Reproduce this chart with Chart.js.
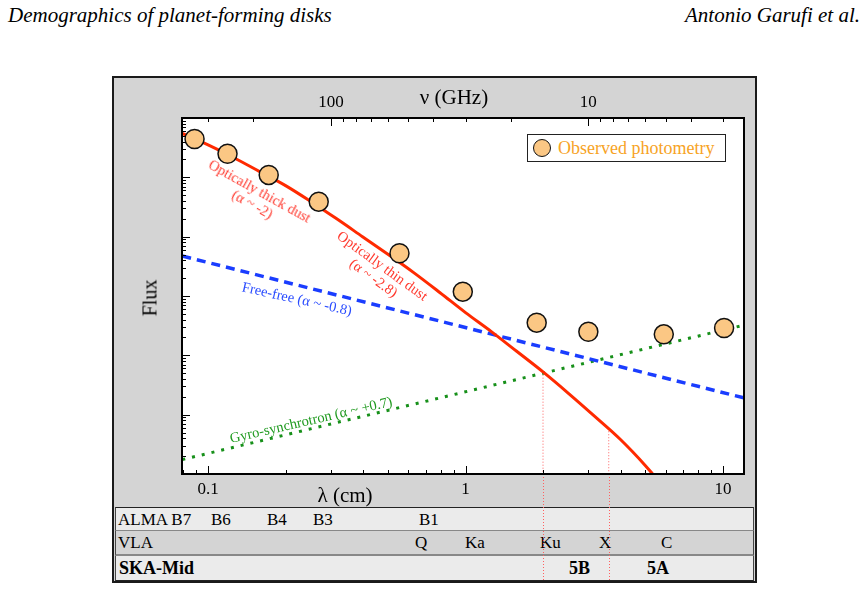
<!DOCTYPE html>
<html>
<head>
<meta charset="utf-8">
<script src="https://cdn.jsdelivr.net/npm/chart.js@4.4.1/dist/chart.umd.min.js"></script>
<style>
  body { margin:0; background:#fff; }
  #page { position:relative; width:868px; height:589px; overflow:hidden;
          font-family:"Liberation Serif","Times New Roman",serif; color:#000; }
  .abs { position:absolute; white-space:nowrap; }
  .hdr { top:3px; font-size:21px; font-style:italic; }
  #frame { position:absolute; left:112px; top:76px; width:641px; height:503px;
           border:2px solid #1a1a1a; background:#d4d4d4; }
  .row { position:absolute; left:115px; width:639px; box-sizing:border-box;
         border-left:1px solid #444; border-right:1px solid #444; }
  .cell { position:absolute; font-size:17px; line-height:24px; top:0; }
  .rot { position:absolute; white-space:nowrap; text-align:center; line-height:15px;
         font-size:14.5px; transform:translate(-50%,-50%); }
  #c { position:absolute; left:0; top:0; }
</style>
</head>
<body>
<div id="page">
  <div class="abs hdr" style="left:8px">Demographics of planet-forming disks</div>
  <div class="abs hdr" style="right:8px">Antonio Garufi et al.</div>

  <div id="frame"></div>

  <!-- bandas dos instrumentos -->
  <div class="row" style="top:507px;height:24px;background:#ebebeb;border-top:1px solid #222;border-bottom:1px solid #888">
    <span class="cell" style="left:2px">ALMA B7</span>
    <span class="cell" style="left:95px">B6</span>
    <span class="cell" style="left:151px">B4</span>
    <span class="cell" style="left:197px">B3</span>
    <span class="cell" style="left:303px">B1</span>
  </div>
  <div class="row" style="top:531px;height:25px;background:#d4d4d4;border-bottom:2px solid #888">
    <span class="cell" style="left:2px">VLA</span>
    <span class="cell" style="left:299px">Q</span>
    <span class="cell" style="left:349px">Ka</span>
    <span class="cell" style="left:424px">Ku</span>
    <span class="cell" style="left:483px">X</span>
    <span class="cell" style="left:545px">C</span>
  </div>
  <div class="row" style="top:556px;height:25px;background:#ebebeb;border-bottom:1px solid #222;font-weight:bold">
    <span class="cell" style="left:3px;font-size:18px">SKA-Mid</span>
    <span class="cell" style="left:453px;font-size:18px">5B</span>
    <span class="cell" style="left:531px;font-size:18px">5A</span>
  </div>

  <canvas id="c" width="868" height="589"></canvas>

  <!-- titulos dos eixos -->
  <div class="abs" style="left:454px;top:97px;font-size:21px;transform:translate(-50%,-50%)">&nu; (GHz)</div>
  <div class="abs" style="left:345px;top:495px;font-size:21px;transform:translate(-50%,-50%)">&lambda; (cm)</div>
  <div class="abs" style="left:150px;top:298px;font-size:20px;transform:translate(-50%,-50%) rotate(-90deg)">Flux</div>

  <!-- anotacoes -->
  <div class="rot" style="left:256px;top:198px;color:#ff3b30;transform:translate(-50%,-50%) rotate(29deg)">Optically thick dust<br>(&alpha; ~ -2)</div>
  <div class="rot" style="left:378px;top:272px;color:#ff3b30;transform:translate(-50%,-50%) rotate(36deg)">Optically thin dust<br>(&alpha; ~ -2.8)</div>
  <div class="rot" style="left:297px;top:299px;color:#2a4cff;transform:translate(-50%,-50%) rotate(12.5deg)">Free-free (&alpha; ~ -0.8)</div>
  <div class="rot" style="left:311px;top:420px;color:#1f9a1f;transform:translate(-50%,-50%) rotate(-13deg)">Gyro-synchrotron (&alpha; ~ +0.7)</div>

  <!-- legenda -->
  <div class="abs" style="left:527px;top:134px;width:197px;height:26px;border:1px solid #222;background:#fff">
    <div class="abs" style="left:5px;top:4px;width:16px;height:16px;border-radius:50%;background:#fbc784;border:1.5px solid #111"></div>
    <div class="abs" style="left:30px;top:1px;font-size:18px;line-height:24px;color:#f7a325">Observed photometry</div>
  </div>
</div>

<script>
// ============ DADOS ============
// fotometria observada (lambda em cm, fluxo em unidades arbitrarias)
var lambdaObs = [0.0886, 0.119, 0.172, 0.269, 0.554, 0.976, 1.89, 3.0, 5.89, 10.1];
var fluxObs   = [4.43e5, 2.5e5, 1.1e5, 3.89e4, 5250, 1183, 355, 250, 226, 289];

// poeira (opticamente espessa -> fina)
var lambdaDust = [0.0794, 0.1, 0.126, 0.158, 0.2, 0.251, 0.316, 0.398, 0.501, 0.631,
                  0.794, 1.0, 1.26, 1.58, 2.0, 2.51, 3.16, 3.98, 5.01, 5.33];
var fluxDust   = [5.5e5, 3.51e5, 2.14e5, 1.26e5, 7.24e4, 3.89e4, 2.0e4, 1.0e4, 5010, 2455,
                  1148, 525, 251, 117, 52.5, 22.9, 9.55, 3.89, 1.37, 1.0];

// free-free
var lambdaFree = [0.0794, 12.1];
var fluxFree   = [4720, 19.1];

// gyro-synchrotron
var lambdaGyro = [0.0794, 12.1];
var fluxGyro   = [1.75, 324];

// limites da banda SKA 5B
var lambdaEdge  = [2.0, 3.6];
var fluxEdgeTop = [53, 5.9];

// eixos
var lambdaMin = 0.0792, lambdaMax = 12.07;
var fluxMin = 1, fluxMax = 1e6;
var lambdaTicks = [0.1, 1, 10];
var nuTicks = [100, 10];

function pts(xs, ys) {
  return xs.map(function(x, i) { return { x: x, y: ys[i] }; });
}

function logTicks(min, max) {
  var out = [];
  for (var e = Math.floor(Math.log10(min)); e <= Math.ceil(Math.log10(max)); e++) {
    for (var k = 1; k <= 9; k++) {
      var v = k * Math.pow(10, e);
      if (v >= min * 0.999 && v <= max * 1.001) out.push({ v: v, major: k === 1 });
    }
  }
  return out;
}

// ticks para dentro, moldura, fundo branco e prolongamento das linhas de banda
var framePlugin = {
  id: 'framePlugin',
  beforeDraw: function(chart) {
    var a = chart.chartArea, ctx = chart.ctx;
    ctx.save();
    ctx.fillStyle = '#fff';
    ctx.fillRect(a.left, a.top, a.right - a.left, a.bottom - a.top);
    ctx.restore();
  },
  afterDraw: function(chart) {
    var a = chart.chartArea, ctx = chart.ctx;
    var sx = chart.scales.x, st = chart.scales.x2, sy = chart.scales.y;
    ctx.save();

    // prolongamento das linhas pontilhadas ate a tabela
    ctx.strokeStyle = '#ff6060';
    ctx.lineWidth = 1;
    ctx.setLineDash([1, 2]);
    lambdaEdge.forEach(function(l) {
      var px = Math.round(sx.getPixelForValue(l)) + 0.5;
      ctx.beginPath();
      ctx.moveTo(px, a.bottom);
      ctx.lineTo(px, 580);
      ctx.stroke();
    });
    ctx.setLineDash([]);

    ctx.strokeStyle = '#000';
    ctx.lineWidth = 1;
    ctx.beginPath();
    logTicks(lambdaMin, lambdaMax).forEach(function(t) {
      var px = Math.round(sx.getPixelForValue(t.v)) + 0.5;
      ctx.moveTo(px, a.bottom);
      ctx.lineTo(px, a.bottom - (t.major ? 8 : 4));
    });
    logTicks(st.min, st.max).forEach(function(t) {
      var px = Math.round(st.getPixelForValue(t.v)) + 0.5;
      ctx.moveTo(px, a.top);
      ctx.lineTo(px, a.top + (t.major ? 8 : 4));
    });
    logTicks(fluxMin, fluxMax).forEach(function(t) {
      var py = Math.round(sy.getPixelForValue(t.v)) + 0.5;
      ctx.moveTo(a.left, py);
      ctx.lineTo(a.left + (t.major ? 8 : 4), py);
    });
    ctx.stroke();

    ctx.lineWidth = 2;
    ctx.strokeRect(a.left, a.top, a.right - a.left, a.bottom - a.top);
    ctx.restore();
  }
};

Chart.defaults.font.family = '"Liberation Serif", "Times New Roman", serif';
Chart.defaults.color = '#000';

var edgeSets = lambdaEdge.map(function(l, i) {
  return {
    data: pts([l, l], [fluxEdgeTop[i], fluxMin]),
    borderColor: '#ff6060',
    borderWidth: 1,
    borderDash: [1, 2],
    pointRadius: 0,
    fill: false
  };
});

new Chart(document.getElementById('c'), {
  type: 'line',
  data: {
    datasets: [
      {
        label: 'Observed photometry',
        data: pts(lambdaObs, fluxObs),
        showLine: false,
        pointRadius: 9.5,
        pointBackgroundColor: '#fbc784',
        pointBorderColor: '#111',
        pointBorderWidth: 1.5
      },
      {
        data: pts(lambdaDust, fluxDust),
        borderColor: '#ff2a00',
        borderWidth: 3,
        pointRadius: 0,
        cubicInterpolationMode: 'monotone',
        fill: false
      },
      {
        data: pts(lambdaFree, fluxFree),
        borderColor: '#1a3dff',
        borderWidth: 3.5,
        borderDash: [9, 6],
        pointRadius: 0,
        fill: false
      },
      {
        data: pts(lambdaGyro, fluxGyro),
        borderColor: '#17901a',
        borderWidth: 3,
        borderDash: [3, 7],
        pointRadius: 0,
        fill: false
      }
    ].concat(edgeSets)
  },
  options: {
    responsive: false,
    animation: false,
    layout: { padding: { left: 182, right: 124, top: 88, bottom: 85 } },
    plugins: { legend: { display: false }, tooltip: { enabled: false } },
    scales: {
      x: {
        type: 'logarithmic', position: 'bottom',
        min: lambdaMin, max: lambdaMax,
        grid: { display: false, drawTicks: false }, border: { display: false },
        afterBuildTicks: function(s) { s.ticks = lambdaTicks.map(function(v) { return { value: v }; }); },
        afterFit: function(s) { s.height = 30; },
        ticks: { padding: 5, font: { size: 17 }, maxRotation: 0, autoSkip: false,
                 callback: function(v) { return String(v); } }
      },
      x2: {
        type: 'logarithmic', position: 'top', reverse: true,
        min: 30 / lambdaMax, max: 30 / lambdaMin,
        grid: { display: false, drawTicks: false }, border: { display: false },
        afterBuildTicks: function(s) { s.ticks = nuTicks.map(function(v) { return { value: v }; }); },
        afterFit: function(s) { s.height = 30; },
        ticks: { padding: 5, font: { size: 17 }, maxRotation: 0, autoSkip: false,
                 callback: function(v) { return String(v); } }
      },
      y: {
        type: 'logarithmic',
        min: fluxMin, max: fluxMax,
        grid: { display: false }, border: { display: false },
        ticks: { display: false },
        afterFit: function(s) { s.width = 0; }
      }
    }
  },
  plugins: [framePlugin]
});
</script>
</body>
</html>
